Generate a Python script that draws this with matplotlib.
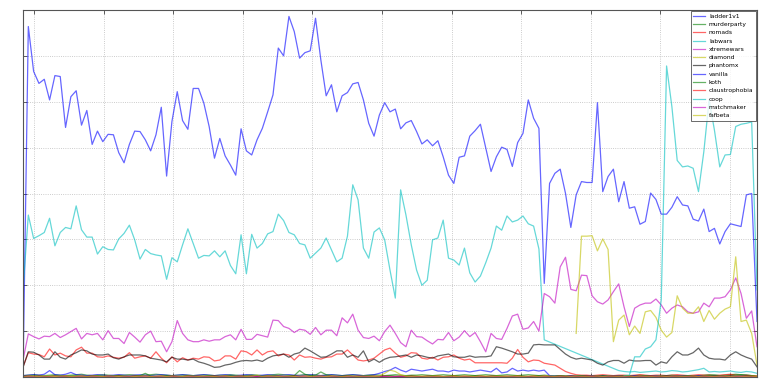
import matplotlib
matplotlib.use("Agg")
import matplotlib.pyplot as plt
import numpy as np

N = 139
labels = ["ladder1v1", "murderparty", "nomads", "labwars", "xtremewars", "diamond",
          "phantomx", "vanilla", "koth", "claustrophobia", "coop", "matchmaker", "fafbeta"]

ladder1v1 = [0, 764, 666, 640, 649, 604, 657, 655, 544, 611, 624, 549, 581, 507, 536, 513, 529, 528, 489, 467, 507, 536, 535, 517, 493,
             528, 588, 438, 557, 622, 559, 540, 629, 629, 597, 546, 477, 520, 482, 462, 440, 541, 493, 484, 517, 542, 578, 615,
             717, 700, 786, 753, 695, 707, 711, 782, 691, 613, 637, 578, 613, 620, 639, 642, 604, 553, 525, 571, 598, 578, 584, 541,
             554, 559, 535, 508, 517, 504, 515, 480, 440, 422, 479, 482, 525, 537, 551, 499, 448, 480, 501, 496, 459, 511, 531,
             604, 564, 542, 204, 422, 444, 453, 400, 326, 397, 426, 424, 424, 598, 404, 437, 453, 382, 426, 368, 371, 333, 339,
             401, 387, 355, 355, 370, 393, 375, 373, 344, 340, 366, 317, 324, 290, 317, 334, 331, 328, 397, 400, 121]

murderparty = [3, 4, 5, 4, 3, 4, 5, 4, 3, 4, 5, 6, 4, 3, 4, 5, 4, 3, 4, 4, 5, 4, 3, 4, 5, 6, 5, 4, 3, 4,
               5, 4, 3, 4, 5, 4, 3, 4, 4, 5, 4, 3, 4, 5, 4, 3, 4, 5, 6, 5, 4, 3, 4, 5, 4, 4, 3, 4, 5, 4,
               3, 4, 5, 4, 3, 4, 5, 4, 3, 4, 5, 4, 3, 4, 4, 5, 4, 3, 4, 5, 4, 3, 4, 5, 4, 3, 4, 5, 4, 3,
               4, 5, 4, 3, 4, 5, 4, 3, 4, 3, 2, 3, 2, 3, 2, 3, 2, 3, 2, 3, 2, 3, 2, 3, 2, 3, 4, 3, 2, 3,
               2, 3, 4, 3, 2, 3, 2, 3, 4, 5, 4, 3, 4, 5, 6, 5, 4, 3, 2]

nomads = [22, 53, 50, 49, 44, 61, 48, 52, 46, 44, 59, 65, 52, 52, 44, 43, 46, 43, 41, 43, 53, 41, 44, 46, 41,
          55, 41, 31, 44, 33, 42, 37, 41, 39, 44, 43, 35, 37, 46, 46, 39, 57, 55, 48, 59,
          48, 55, 57, 46, 50, 48, 37, 48, 43, 44, 41, 39, 43, 44, 50, 50, 59, 48, 37, 35, 37, 41, 50, 59, 63,
          52, 43, 46, 53, 52, 41, 39, 43, 37, 43, 44, 48, 41, 37, 39, 31, 31, 31, 31, 31, 31, 30, 41, 60,
          43, 33, 37, 36, 30, 28, 26, 19, 12, 8, 5, 4, 4, 3, 4, 5, 4, 3, 4, 4, 3, 4, 5, 4, 3, 4,
          4, 3, 4, 5, 4, 3, 4, 5, 4, 4, 3, 4, 5, 6, 4, 3, 4, 3, 2]

labwars_a = [190, 353, 302, 308, 315, 346, 286, 315, 326, 323, 373, 321, 305, 305, 268, 284, 278, 277, 301, 313,
             331, 299, 257, 278, 269, 266, 264, 213, 260, 251, 288, 323, 291, 259, 265, 264, 275, 262, 275, 243,
             225, 310, 225, 311, 281, 291, 312, 317, 355, 341, 315, 310, 291,
             288, 259, 270, 281, 303, 277, 251, 259, 307, 419, 386, 281, 259, 316, 325, 299, 233, 172, 408, 353,
             288, 233, 200, 211, 299, 303, 342, 259, 255, 244, 281, 227, 207, 220, 249, 281, 329, 320, 351, 338,
             342, 351, 334, 329, 279, 81]
labwars_b_start = 112
labwars_b = [14, 12, 11, 12, 10, 11, 12, 13, 11, 12, 14, 13, 11, 12, 14, 16, 19, 11, 12, 11, 12, 13, 11, 10, 12, 11, 8]

xtremewars = [37, 94, 88, 83, 89, 88, 95, 86, 92, 99, 106, 83, 95, 92, 95, 81, 101, 84, 84, 73, 97, 87, 76, 92, 100,
              77, 78, 55, 77, 123, 95, 81, 77, 77, 81, 78, 81, 81, 88, 92, 81, 104, 82, 82, 93,
              90, 87, 124, 123, 110, 106, 97, 104, 102, 93, 108, 92, 102, 102, 90, 129, 118, 137, 102, 86, 84, 89, 79, 99, 113,
              95, 75, 66, 102, 88, 87, 79, 72, 82, 81, 97, 79, 87, 101, 88, 97, 77, 55, 95, 84, 82, 106, 133, 137,
              104, 107, 121, 100, 182, 175, 161, 240, 261, 191, 188, 222, 221, 177, 164, 159, 168, 186, 203, 153, 110, 150, 157, 161, 161, 170,
              157, 139, 150, 157, 153, 142, 139, 142, 161, 153, 172, 172, 175, 190, 216, 182, 128, 144, 66]

diamond_start = 104
diamond = [95, 307, 307, 308, 275, 301, 278, 77, 124, 135, 92, 111, 95, 142, 145, 130, 102, 87, 97, 177,
           150, 139, 139, 153, 121, 145, 126, 139, 148, 153, 262, 121, 124, 95, 26]

phantomx = [21, 55, 54, 48, 39, 39, 55, 43, 39, 48, 53, 59, 57, 50, 48, 48, 50, 42, 39, 44, 48, 48, 48, 46, 41,
            39, 37, 33, 43, 39, 39, 37, 39, 33, 30, 26, 21, 22, 26, 28, 32, 35, 36, 35, 37,
            34, 41, 46, 48, 50, 43, 50, 53, 63, 57, 50, 43, 44, 50, 57, 57, 43, 48, 43, 57, 33, 39, 32, 39, 43,
            44, 46, 48, 43, 48, 46, 43, 41, 46, 48, 50, 44, 43, 43, 46, 43, 44, 44, 46, 66, 63, 59, 55, 50,
            50, 52, 70, 71, 70, 70, 70, 60, 50, 43, 39, 41, 39, 37, 30, 26, 33, 36, 36, 30, 37, 35, 35, 36, 36, 26,
            33, 30, 44, 55, 48, 48, 53, 63, 48, 41, 39, 39, 37, 48, 55, 48, 43, 39, 22]

vanilla = [3, 4, 5, 4, 6, 14, 5, 4, 6, 10, 5, 4, 3, 4, 5, 4, 3, 4, 5, 4, 3, 4, 5, 4, 3,
           4, 5, 4, 3, 4, 5, 4, 3, 4, 5, 4, 3, 4, 5, 4, 3, 4, 5, 4, 3, 4, 5, 4, 3, 4,
           5, 4, 3, 4, 5, 4, 3, 4, 5, 4, 3, 4, 5, 4, 3, 4, 5, 8, 12, 15, 21, 15, 11, 17, 15,
           13, 15, 17, 13, 13, 11, 15, 13, 13, 11, 13, 15, 13, 11, 19, 9, 11, 19, 13, 15, 13, 15, 13, 15,
           3, 2, 3, 2, 3, 2, 3, 2, 3, 2, 3, 2, 3, 2, 3, 2, 3, 2, 3, 2, 3, 2, 3, 2, 3,
           2, 3, 2, 3, 2, 3, 2, 3, 2, 3, 2, 3, 2, 1]

koth = [1, 2, 3, 2, 1, 2, 3, 2, 1, 2, 3, 2, 1, 2, 3, 2, 1, 2, 3, 2, 1, 2, 3, 8, 2, 1, 2, 3, 2, 1,
        2, 3, 2, 1, 2, 3, 2, 1, 2, 3, 2, 1, 2, 3, 2, 1, 2, 3, 2, 1, 2, 3, 14, 6, 3, 4, 11, 5, 2, 1,
        2, 3, 2, 1, 2, 3, 2, 1, 2, 3, 2, 1, 2, 3, 2, 1, 2, 3, 2, 1, 2, 3, 2, 1, 2, 3, 2, 1, 2, 3,
        2, 1, 2, 3, 2, 1, 2, 3, 2, 1, 2, 3, 2, 1, 2, 3, 2, 1, 2, 3, 2, 1, 2, 3, 2, 1, 2, 3, 2, 1,
        2, 3, 2, 1, 2, 3, 2, 1, 2, 3, 4, 3, 2, 3, 4, 5, 4, 3, 1]

claustrophobia = [1, 2, 1, 2, 1, 1, 2, 1, 2, 1, 1, 2, 1, 2, 1, 1, 2, 1, 2, 1, 1, 2, 1, 2, 1, 1, 2, 1, 2, 1,
                  1, 2, 1, 2, 1, 1, 2, 1, 2, 1, 1, 2, 1, 2, 1, 1, 2, 1, 2, 1, 1, 2, 1, 2, 1, 1, 2, 1, 2, 1,
                  1, 2, 1, 2, 1, 1, 2, 1, 2, 1, 1, 2, 1, 2, 1, 1, 2, 1, 2, 1, 1, 2, 1, 2, 1, 1, 2, 1, 2, 1,
                  1, 2, 1, 2, 1, 1, 2, 1, 2, 1, 1, 2, 1, 2, 1, 1, 2, 1, 2, 1, 1, 2, 1, 2, 1, 1, 2, 1, 2, 1,
                  1, 2, 1, 2, 1, 1, 2, 1, 2, 1, 1, 2, 1, 2, 1, 1, 2, 1, 1]

coop_start = 113
coop = [3, 4, 44, 44, 61, 66, 81, 168, 678, 589, 472, 458, 460, 455, 404, 491, 604, 538, 458, 484,
        485, 546, 551, 553, 556, 190]

matchmaker = [0, 1, 1, 0, 1, 1, 0, 1, 1, 0, 1, 1, 0, 1, 1, 0, 1, 1, 0, 1, 1, 0, 1, 1, 0, 1, 1, 0, 1, 1,
              0, 1, 1, 0, 1, 1, 0, 1, 1, 0, 1, 1, 0, 1, 1, 0, 1, 1, 0, 1, 1, 0, 1, 1, 0, 1, 1, 0, 1, 1,
              0, 1, 1, 0, 1, 1, 0, 1, 1, 0, 1, 1, 0, 1, 1, 0, 1, 1, 0, 1, 1, 0, 1, 1, 0, 1, 1, 0, 1, 1,
              0, 1, 1, 0, 1, 1, 0, 1, 1, 0, 1, 1, 0, 1, 1, 0, 1, 1, 0, 1, 1, 0, 1, 1, 0, 1, 1, 0, 1, 1,
              0, 1, 1, 0, 1, 1, 0, 1, 1, 0, 1, 1, 0, 1, 1, 0, 1, 1, 0]

fafbeta = [1, 2, 2, 1, 2, 2, 1, 2, 2, 1, 2, 2, 1, 2, 2, 1, 2, 2, 1, 2, 2, 1, 2, 2, 1, 2, 2, 1, 2, 2,
           1, 2, 2, 1, 2, 2, 1, 2, 2, 1, 2, 2, 1, 2, 4, 1, 2, 2, 1, 2, 2, 1, 2, 2, 1, 2, 2, 1, 2, 2,
           1, 2, 2, 1, 2, 2, 1, 2, 8, 15, 12, 5, 2, 1, 2, 2, 1, 2, 2, 1, 2, 2, 1, 2, 2, 1, 2, 2, 1, 2,
           2, 1, 2, 2, 1, 2, 2, 1, 2, 2, 1, 2, 2, 1, 2, 2, 1, 2, 2, 1, 2, 2, 1, 2, 2, 1, 2, 2, 1, 2,
           2, 1, 2, 2, 1, 2, 2, 1, 2, 2, 1, 2, 2, 1, 2, 2, 1, 2, 1]


def xs_for(vals, start=0):
    return list(range(start, start + len(vals)))


labwars_x = xs_for(labwars_a) + xs_for(labwars_b, labwars_b_start)
labwars = labwars_a + labwars_b

series = [
    (xs_for(ladder1v1), ladder1v1), (xs_for(murderparty), murderparty), (xs_for(nomads), nomads),
    (labwars_x, labwars), (xs_for(xtremewars), xtremewars), (xs_for(diamond, diamond_start), diamond),
    (xs_for(phantomx), phantomx), (xs_for(vanilla), vanilla), (xs_for(koth), koth),
    (xs_for(claustrophobia), claustrophobia), (xs_for(coop, coop_start), coop),
    (xs_for(matchmaker), matchmaker), (xs_for(fafbeta), fafbeta),
]
colors = ["b", "g", "r", "c", "m", "y", "k"]

fig = plt.figure(figsize=(7.6, 3.86), dpi=100)
ax = fig.add_axes([23 / 760, 1 - 377 / 386, 734 / 760, 367 / 386])
for k, ((xs, ys), lab) in enumerate(zip(series, labels)):
    ax.plot(xs, ys, color=colors[k % 7], alpha=0.6, lw=0.9, label=lab)

ax.set_xlim(0, N - 1)
ax.set_ylim(0, 800)
ax.set_xticks([2.07 + 13.085 * k for k in range(11)])
ax.set_yticks(range(0, 801, 100))
ax.tick_params(labelbottom=False, labelleft=False, direction="in", length=3,
               top=True, right=True, color="#444444", width=0.6)
ax.grid(True, color="#bbbbbb", linestyle=":", linewidth=0.6)
for s in ax.spines.values():
    s.set_color("#555555")
    s.set_linewidth(0.8)

leg = ax.legend(loc="upper right", fontsize=4.3, frameon=True, fancybox=False,
                borderaxespad=0.15, labelspacing=0.52, handlelength=2.0,
                handletextpad=0.6, borderpad=0.45)
leg.get_frame().set_edgecolor("#444444")
leg.get_frame().set_linewidth(0.7)

fig.savefig("out.png", dpi=100)
